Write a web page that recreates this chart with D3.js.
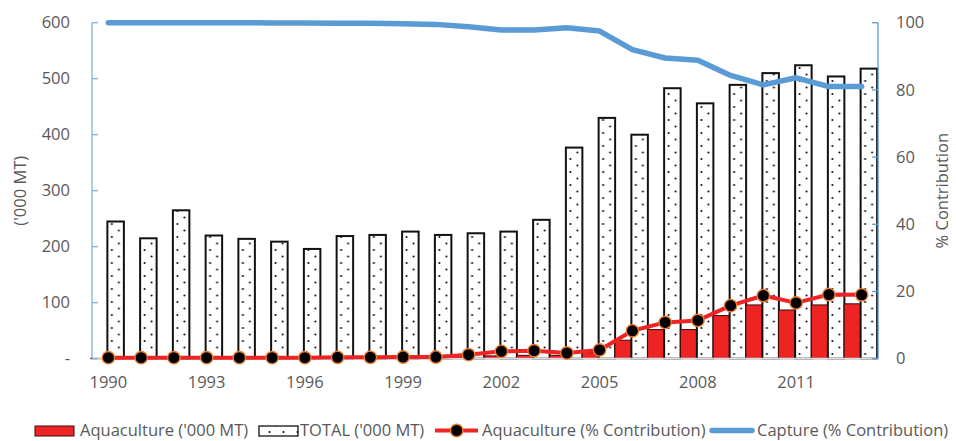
<!DOCTYPE html>
<html>
<head>
<meta charset="utf-8">
<script src="https://cdn.jsdelivr.net/npm/d3@7"></script>
<style>
  html, body { margin: 0; padding: 0; background: #fff; }
  svg { display: block; font-family: "Open Sans", "Liberation Sans", sans-serif; }
</style>
</head>
<body>
<svg id="chart" width="956" height="441"></svg>
<script>
// Production, '000 MT, and share of production (%), 1990–2013
const years = [1990, 1991, 1992, 1993, 1994, 1995, 1996, 1997, 1998, 1999, 2000, 2001,
               2002, 2003, 2004, 2005, 2006, 2007, 2008, 2009, 2010, 2011, 2012, 2013];
const aquacultureMT = [0.6, 0.6, 0.7, 0.6, 0.6, 0.6, 0.6, 0.7, 0.8, 1.0, 1.1, 3,
                       5, 6, 6, 11, 33, 52, 52, 77, 96, 87, 96, 98];
const totalMT = [245, 215, 265, 220, 214, 209, 196, 219, 221, 227, 221, 224,
                 227, 248, 377, 430, 400, 483, 456, 489, 510, 524, 504, 518];
const aquaculturePct = [0.3, 0.3, 0.3, 0.3, 0.3, 0.3, 0.3, 0.4, 0.4, 0.5, 0.5, 1.2,
                        2.2, 2.4, 1.7, 2.6, 8.3, 10.8, 11.4, 15.8, 18.8, 16.6, 19.1, 19.0];
const capturePct = [100, 100, 100, 100, 100, 99.9, 99.9, 99.8, 99.8, 99.7, 99.5, 98.8,
                    97.8, 97.8, 98.5, 97.5, 92.0, 89.5, 88.8, 84.3, 81.5, 83.6, 81.0, 81.0];

const leftTicks = [0, 100, 200, 300, 400, 500, 600];
const rightTicks = [0, 20, 40, 60, 80, 100];
const xTickYears = [1990, 1993, 1996, 1999, 2002, 2005, 2008, 2011];

const seriesNames = ["Aquaculture ('000 MT)", "TOTAL ('000 MT)",
                     "Aquaculture (% Contribution)", "Capture (% Contribution)"];

const textColor = "#595959";
const red = "#EE2424";
const blue = "#5B9BD5";
const orange = "#ED7D31";

const svg = d3.select("#chart");
const plot = { left: 92, right: 878, top: 22.7, bottom: 358.7 };

const x = d3.scaleBand().domain(years).range([plot.left, plot.right]).paddingInner(0).paddingOuter(0);
const xSub = d3.scaleBand().domain(["aquaculture", "total"]).range([-17.5, 15.5]);
const yLeft = d3.scaleLinear().domain([0, 600]).range([plot.bottom, plot.top]);
const yRight = d3.scaleLinear().domain([0, 100]).range([plot.bottom, plot.top]);
const cx = yr => x(yr) + x.bandwidth() / 2;

// dotted fill for the TOTAL bars
const defs = svg.append("defs");
const pat = defs.append("pattern")
  .attr("id", "dots").attr("patternUnits", "userSpaceOnUse")
  .attr("width", 14).attr("height", 13);
pat.append("rect").attr("width", 14).attr("height", 13).attr("fill", "#fff");
pat.append("circle").attr("cx", 3.5).attr("cy", 3).attr("r", 1.0).attr("fill", "#000");
pat.append("circle").attr("cx", 10.5).attr("cy", 9.5).attr("r", 1.0).attr("fill", "#000");

// bars
const groups = svg.append("g").selectAll("g").data(years).join("g")
  .attr("transform", d => `translate(${cx(d)},0)`);
groups.append("rect")
  .attr("x", xSub("aquaculture"))
  .attr("width", xSub.bandwidth())
  .attr("y", (d, i) => yLeft(aquacultureMT[i]))
  .attr("height", (d, i) => yLeft(0) - yLeft(aquacultureMT[i]))
  .attr("fill", red).attr("stroke", "#3a0a0a").attr("stroke-width", 1);
groups.append("rect")
  .attr("x", xSub("total"))
  .attr("width", xSub.bandwidth())
  .attr("y", (d, i) => yLeft(totalMT[i]))
  .attr("height", (d, i) => yLeft(0) - yLeft(totalMT[i]))
  .attr("fill", "url(#dots)").attr("stroke", "#111").attr("stroke-width", 2);

// category axis baseline
svg.append("line")
  .attr("x1", plot.left).attr("x2", plot.right)
  .attr("y1", yLeft(0)).attr("y2", yLeft(0))
  .attr("stroke", "#D9D9D9").attr("stroke-width", 2);

// left value axis
const gL = svg.append("g");
gL.append("line").attr("x1", plot.left).attr("x2", plot.left)
  .attr("y1", yLeft(0)).attr("y2", yLeft(600)).attr("stroke", "#7FB1DF").attr("stroke-width", 1.3);
gL.selectAll("line.t").data(leftTicks).join("line").attr("class", "t")
  .attr("x1", plot.left).attr("x2", plot.left + 6)
  .attr("y1", d => yLeft(d)).attr("y2", d => yLeft(d))
  .attr("stroke", "#7FB1DF").attr("stroke-width", 1.3);
gL.selectAll("text").data(leftTicks).join("text")
  .attr("x", 70).attr("y", d => yLeft(d)).attr("dy", "0.35em")
  .attr("text-anchor", "end").attr("fill", textColor).attr("font-size", 16.5)
  .text(d => d === 0 ? "-" : d);
svg.append("text")
  .attr("transform", `translate(26,${(plot.top + plot.bottom) / 2}) rotate(-90)`)
  .attr("text-anchor", "middle").attr("fill", textColor).attr("font-size", 16.5)
  .text("('000 MT)");

// right value axis
const gR = svg.append("g");
gR.append("line").attr("x1", plot.right).attr("x2", plot.right)
  .attr("y1", yRight(0)).attr("y2", yRight(100)).attr("stroke", blue).attr("stroke-width", 1.3);
gR.selectAll("line.t").data(rightTicks).join("line").attr("class", "t")
  .attr("x1", plot.right - 6).attr("x2", plot.right)
  .attr("y1", d => yRight(d)).attr("y2", d => yRight(d))
  .attr("stroke", blue).attr("stroke-width", 1.3);
gR.selectAll("text").data(rightTicks).join("text")
  .attr("x", 896).attr("y", d => yRight(d)).attr("dy", "0.35em")
  .attr("text-anchor", "start").attr("fill", textColor).attr("font-size", 16.5)
  .text(d => d);
svg.append("text")
  .attr("transform", `translate(948,${(plot.top + plot.bottom) / 2}) rotate(-90)`)
  .attr("text-anchor", "middle").attr("fill", textColor).attr("font-size", 16.5)
  .text("% Contribution");

// year labels
svg.append("g").selectAll("text").data(xTickYears).join("text")
  .attr("x", d => cx(d)).attr("y", 382).attr("dy", "0.35em")
  .attr("text-anchor", "middle").attr("fill", textColor).attr("font-size", 16.5)
  .text(d => d);

// capture share line
const line = (vals) => d3.line().x((d, i) => cx(years[i])).y(d => yRight(d))(vals);
svg.append("path").attr("d", line(capturePct))
  .attr("fill", "none").attr("stroke", blue).attr("stroke-width", 5.5)
  .attr("stroke-linecap", "round").attr("stroke-linejoin", "round");

// aquaculture share line with markers
svg.append("path").attr("d", line(aquaculturePct))
  .attr("fill", "none").attr("stroke", red).attr("stroke-width", 4)
  .attr("stroke-linejoin", "round");
svg.append("g").selectAll("circle").data(aquaculturePct).join("circle")
  .attr("cx", (d, i) => cx(years[i])).attr("cy", d => yRight(d)).attr("r", 6.2)
  .attr("fill", "#000").attr("stroke", orange).attr("stroke-width", 1.4);

// legend
const lg = svg.append("g").attr("font-size", 16.5).attr("fill", textColor);
const ly = 430.5;
lg.append("rect").attr("x", 35).attr("y", ly - 4.5).attr("width", 39).attr("height", 10)
  .attr("fill", red).attr("stroke", "#3a0a0a").attr("stroke-width", 1);
lg.append("text").attr("x", 80).attr("y", ly).attr("dy", "0.35em").text(seriesNames[0]);
lg.append("rect").attr("x", 259).attr("y", ly - 4.5).attr("width", 39).attr("height", 10)
  .attr("fill", "url(#dots)").attr("stroke", "#111").attr("stroke-width", 1.3);
lg.append("text").attr("x", 300).attr("y", ly).attr("dy", "0.35em").text(seriesNames[1]);
lg.append("line").attr("x1", 435).attr("x2", 478).attr("y1", ly).attr("y2", ly)
  .attr("stroke", red).attr("stroke-width", 4);
lg.append("circle").attr("cx", 456.7).attr("cy", ly).attr("r", 6.2)
  .attr("fill", "#000").attr("stroke", orange).attr("stroke-width", 1.4);
lg.append("text").attr("x", 482).attr("y", ly).attr("dy", "0.35em").text(seriesNames[2]);
lg.append("line").attr("x1", 712).attr("x2", 752).attr("y1", ly).attr("y2", ly)
  .attr("stroke", blue).attr("stroke-width", 5.5).attr("stroke-linecap", "round");
lg.append("text").attr("x", 757).attr("y", ly).attr("dy", "0.35em").text(seriesNames[3]);
</script>
</body>
</html>
